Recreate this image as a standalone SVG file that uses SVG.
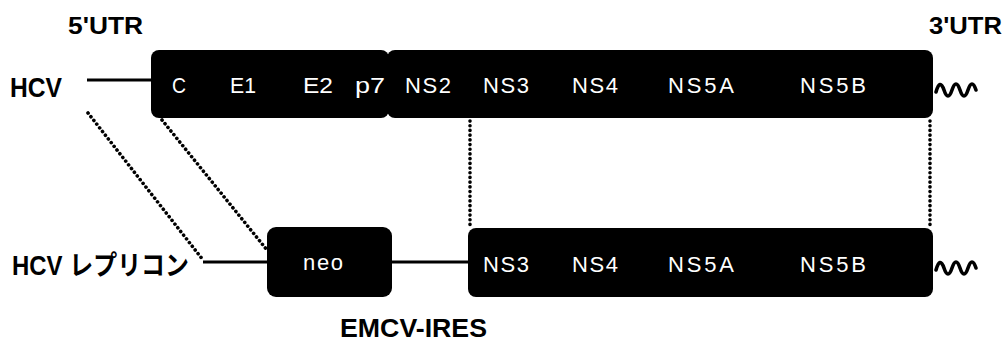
<svg xmlns="http://www.w3.org/2000/svg" width="1005" height="343" viewBox="0 0 1005 343">
<style>
.lbl{font-family:"Liberation Sans","Noto Sans CJK JP",sans-serif;font-weight:bold;fill:#000}
.in{font-family:"Liberation Sans",Arial,sans-serif;font-size:22px;fill:#fff}
.box{fill:#000}
.line{stroke:#000;stroke-width:3;fill:none}
.dot{stroke:#000;stroke-width:3.6;fill:none;stroke-linecap:round;stroke-dasharray:0.1 4.6}
.wave{stroke:#000;stroke-width:3.6;fill:none;stroke-linejoin:round;stroke-linecap:round}
</style>
<rect width="1005" height="343" fill="#fff"/>
<g id="connectors">
<line class="line" x1="87" y1="80" x2="152" y2="80"/>
<line class="line" x1="203" y1="262" x2="268" y2="262"/>
<line class="line" x1="390" y1="262" x2="470" y2="262"/>
<line class="dot" x1="88" y1="113" x2="203" y2="260"/>
<line class="dot" x1="162" y1="120" x2="267" y2="250"/>
<line class="dot" x1="470" y1="121" x2="470" y2="226"/>
<line class="dot" x1="930" y1="121" x2="930" y2="226"/>
<path class="wave" d="M936,92 Q940,78 944,90 T952,90 T960,90 T968,90 T976,90"/>
<path class="wave" d="M936,270 Q940,256 944,268 T952,268 T960,268 T968,268 T976,268"/>
</g>
<g id="label-5utr"><text class="lbl" x="68" y="34" font-size="23" textLength="75" lengthAdjust="spacingAndGlyphs">5'UTR</text></g>
<g id="label-3utr"><text class="lbl" x="929" y="34" font-size="23" textLength="73" lengthAdjust="spacingAndGlyphs">3'UTR</text></g>
<g id="label-hcv"><text class="lbl" x="10" y="97" font-size="28" textLength="52" lengthAdjust="spacingAndGlyphs">HCV</text></g>
<g id="label-replicon"><text class="lbl" x="12" y="275" font-size="27" textLength="177" lengthAdjust="spacingAndGlyphs">HCV レプリコン</text></g>
<g id="label-emcv"><text class="lbl" x="340" y="337" font-size="26" textLength="147" lengthAdjust="spacingAndGlyphs">EMCV-IRES</text></g>
<g id="hcv-structural">
<rect class="box" x="151" y="50" width="238" height="68" rx="8"/>
<text class="in" x="172" y="93" textLength="14" lengthAdjust="spacingAndGlyphs">C</text>
<text class="in" x="230" y="93" textLength="26" lengthAdjust="spacingAndGlyphs">E1</text>
<text class="in" x="303" y="93" textLength="30" lengthAdjust="spacingAndGlyphs">E2</text>
<text class="in" x="355" y="93" textLength="30" lengthAdjust="spacingAndGlyphs">p7</text>
</g>
<g id="hcv-nonstructural">
<rect class="box" x="387" y="50" width="546" height="68" rx="8"/>
<text class="in" x="405" y="93" textLength="46" lengthAdjust="spacing">NS2</text>
<text class="in" x="483" y="93" textLength="46" lengthAdjust="spacing">NS3</text>
<text class="in" x="572" y="93" textLength="46" lengthAdjust="spacing">NS4</text>
<text class="in" x="668" y="93" textLength="66" lengthAdjust="spacing">NS5A</text>
<text class="in" x="800" y="93" textLength="66" lengthAdjust="spacing">NS5B</text>
</g>
<g id="neo">
<rect class="box" x="267" y="227" width="125" height="70" rx="9"/>
<text class="in" x="303" y="270" font-size="21" textLength="40" lengthAdjust="spacing">neo</text>
</g>
<g id="replicon-ns">
<rect class="box" x="468" y="228" width="465" height="69" rx="8"/>
<text class="in" x="483" y="272" textLength="46" lengthAdjust="spacing">NS3</text>
<text class="in" x="572" y="272" textLength="46" lengthAdjust="spacing">NS4</text>
<text class="in" x="668" y="272" textLength="66" lengthAdjust="spacing">NS5A</text>
<text class="in" x="800" y="272" textLength="66" lengthAdjust="spacing">NS5B</text>
</g>
</svg>
